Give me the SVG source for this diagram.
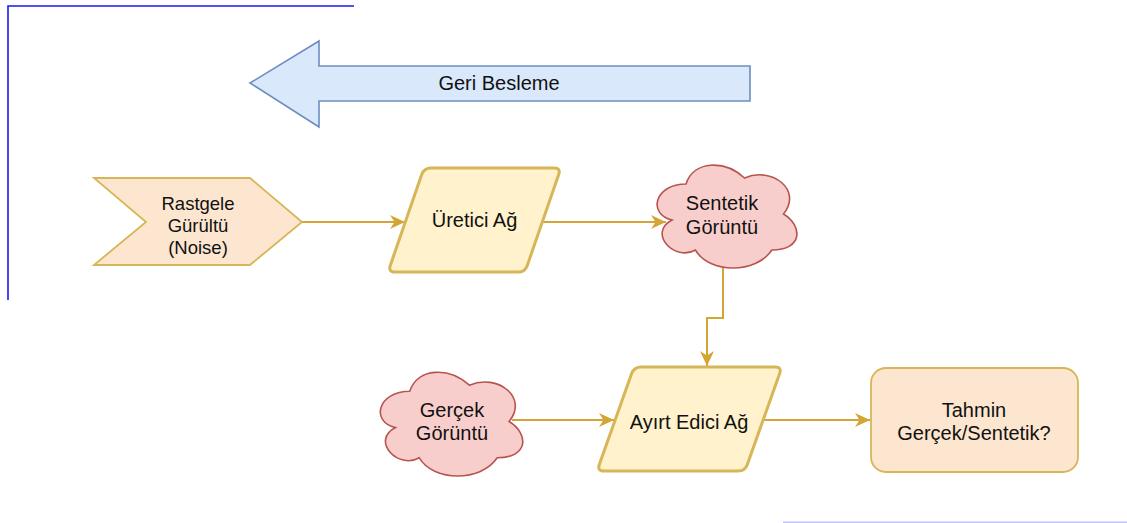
<svg xmlns="http://www.w3.org/2000/svg" width="1127" height="523" viewBox="0 0 1127 523">
  <defs>
    <style>
      text { font-family: "Liberation Sans", Arial, sans-serif; fill: #111111; text-anchor: middle; }
      .lbl { font-size: 20px; }
      .lbl-s { font-size: 18.5px; }
      .edge { fill: none; stroke: #d4a535; stroke-width: 2; }
      .cloud { fill: #f8cecc; stroke: #b85450; stroke-width: 1.6; }
      .proc { fill: #fff2cc; stroke: #d6b656; stroke-width: 3; stroke-linejoin: round; }
      .warm { fill: #fde6cf; stroke: #d6b656; stroke-width: 1.8; }
      .frame { stroke: #1a1ae8; stroke-width: 1.6; fill: none; }
    </style>
    <marker id="arrow" markerUnits="userSpaceOnUse" markerWidth="15" markerHeight="14" refX="15" refY="7" orient="auto">
      <path d="M0,0 L15,7 L0,14 L4.5,7 Z" fill="#d4a535"/>
    </marker>
  </defs>

  <rect width="1127" height="523" fill="#ffffff"/>

  <!-- frame lines -->
  <path class="frame" d="M8,300 V6 H354"/>
  <line x1="783" y1="522.3" x2="1127" y2="522.3" stroke="#c3c3f3" stroke-width="1.4"/>

  <!-- connectors -->
  <g id="connectors">
    <path class="edge" d="M302,222 H405" marker-end="url(#arrow)"/>
    <path class="edge" d="M543,222 H666" marker-end="url(#arrow)"/>
    <path class="edge" d="M723,262 V318 H707 V366" marker-end="url(#arrow)"/>
    <path class="edge" d="M512,420 H614" marker-end="url(#arrow)"/>
    <path class="edge" d="M763,420 H870" marker-end="url(#arrow)"/>
  </g>

  <!-- feedback arrow -->
  <g id="geri-besleme">
    <path d="M250,83 L319,41 L319,66 L750,66 L750,101 L319,101 L319,127 Z" fill="#dae8fc" stroke="#6c8ebf" stroke-width="1.6"/>
    <text class="lbl" x="499" y="90">Geri Besleme</text>
  </g>

  <!-- noise input -->
  <g id="rastgele-gurultu">
    <path class="warm" d="M94,178 L250,178 L302,222 L250,265 L94,265 L146,222 Z"/>
    <text class="lbl-s" x="198" y="209.5">Rastgele</text>
    <text class="lbl-s" x="198" y="231.5">Gürültü</text>
    <text class="lbl-s" x="198" y="254">(Noise)</text>
  </g>

  <!-- generator -->
  <g id="uretici-ag">
    <path class="proc" d="M431,168 L554,168 Q561,168 558.7,174.6 L527.3,265.4 Q525,272 518,272 L395,272 Q388,272 390.3,265.4 L421.7,174.6 Q424,168 431,168 Z"/>
    <text class="lbl" x="474.5" y="227">Üretici Ağ</text>
  </g>

  <!-- synthetic image -->
  <g id="sentetik-goruntu">
    <path class="cloud" d="M686,184 C654.8,184 647,214 672,220 C647,233.2 675.1,262 695.4,250 C709.4,274 756.2,274 771.8,250 C803,250 803,226 783.5,214 C803,190 771.8,166 744.5,178 C725,160 693.8,160 686,184 Z"/>
    <text class="lbl" x="722" y="210">Sentetik</text>
    <text class="lbl" x="722" y="234">Görüntü</text>
  </g>

  <!-- real image -->
  <g id="gercek-goruntu">
    <path class="cloud" d="M409.75,391.25 C377.95,391.25 370,421.5 395.44,427.55 C370,440.86 398.62,469.9 419.29,457.8 C433.6,482 481.3,482 497.2,457.8 C529,457.8 529,433.6 509.1,421.5 C529,397.3 497.2,373.1 469.4,385.2 C449.5,367.05 417.7,367.05 409.75,391.25 Z"/>
    <text class="lbl" x="452" y="417">Gerçek</text>
    <text class="lbl" x="452" y="440">Görüntü</text>
  </g>

  <!-- discriminator -->
  <g id="ayirt-edici-ag">
    <path class="proc" d="M641,367 L775,367 Q782,367 779.65,373.6 L747.35,464.4 Q745,471 738,471 L604,471 Q597,471 599.35,464.4 L631.65,373.6 Q634,367 641,367 Z"/>
    <text class="lbl" x="689" y="429">Ayırt Edici Ağ</text>
  </g>

  <!-- prediction -->
  <g id="tahmin">
    <rect class="warm" x="871" y="368" width="207" height="104" rx="15" ry="15"/>
    <text class="lbl" x="974" y="417">Tahmin</text>
    <text class="lbl" x="974" y="440">Gerçek/Sentetik?</text>
  </g>
</svg>
